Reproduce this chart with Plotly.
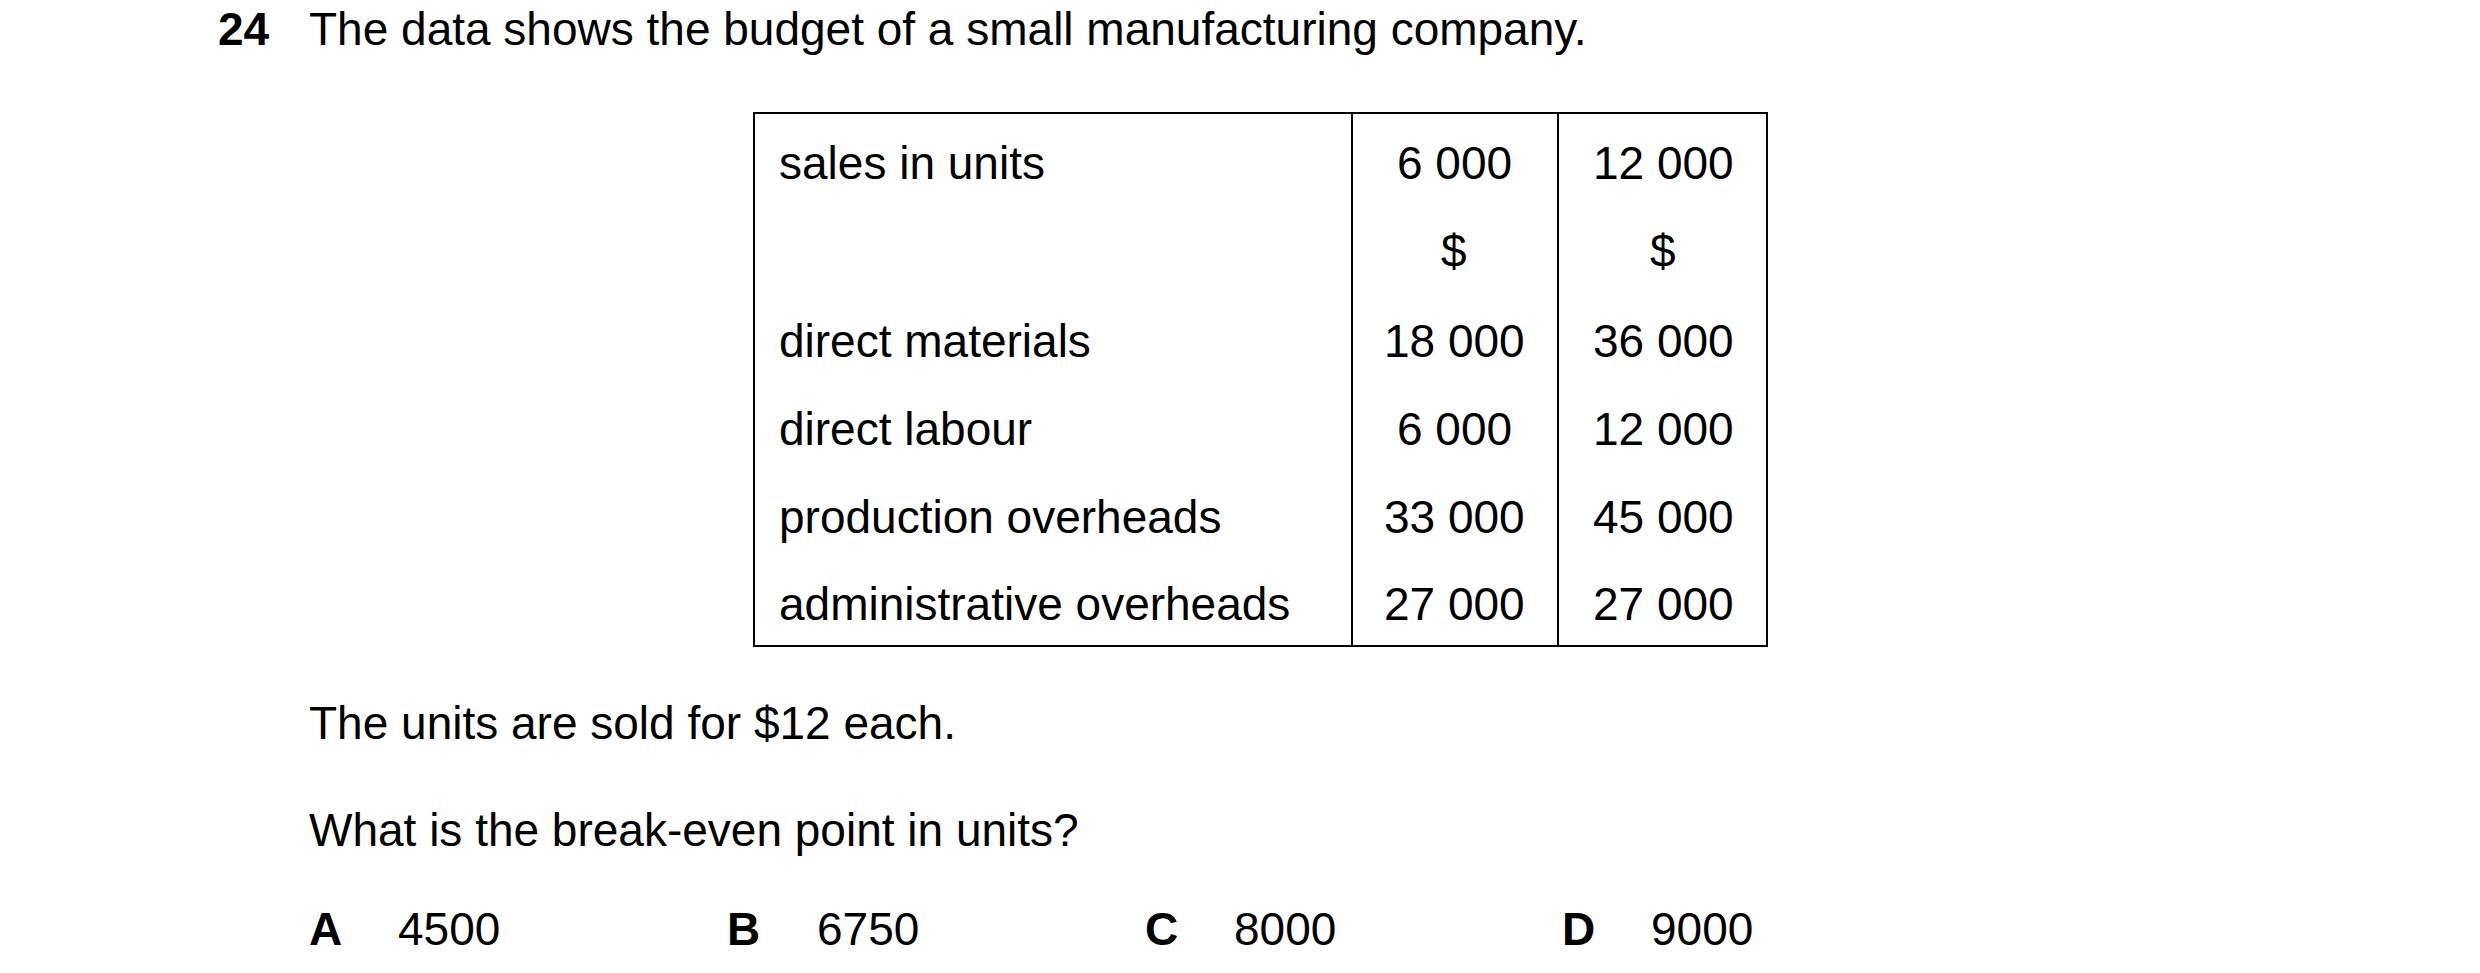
import plotly.graph_objects as go

question_no = "24"
heading = "The data shows the budget of a small manufacturing company."
row_labels = ["sales in units", "", "direct materials", "direct labour",
              "production overheads", "administrative overheads"]
col1 = ["6 000", "$", "18 000", "6 000", "33 000", "27 000"]
col2 = ["12 000", "$", "36 000", "12 000", "45 000", "27 000"]
line1 = "The units are sold for $12 each."
line2 = "What is the break-even point in units?"
opt_letters = ["A", "B", "C", "D"]
opt_values = ["4500", "6750", "8000", "9000"]

W, H = 2480, 973
F = "Liberation Sans, Arial, sans-serif"
FS = 46
fig = go.Figure()
ann = []
def t(x, y, s, anchor="left", bold=False):
    ann.append(dict(x=x, y=y - 6, xref="x", yref="y", text=(f"<b>{s}</b>" if bold else s),
                    showarrow=False, xanchor=anchor, yanchor="middle",
                    font=dict(family=F, size=FS, color="black")))

t(208, 27, question_no, bold=True)
t(299, 27, heading)
row_y = [161, 249, 339, 427, 515, 602]
for y, a, b, c in zip(row_y, row_labels, col1, col2):
    if a: t(769, y, a)
    t(1446, y, b, anchor="center")
    t(1655, y, c, anchor="center")
t(299, 721, line1)
t(299, 828, line2)
for lx, vx, l, v in zip([299, 717, 1135, 1552], [388, 807, 1224, 1641], opt_letters, opt_values):
    t(lx, 927, l, bold=True)
    t(vx, 927, v)

shapes = [dict(type="rect", x0=746, x1=1759, y0=105, y1=638, xref="x", yref="y",
               line=dict(color="black", width=2))]
for x in [1344, 1550]:
    shapes.append(dict(type="line", x0=x, x1=x, y0=105, y1=638, xref="x", yref="y",
                       line=dict(color="black", width=2)))

fig.update_layout(width=W, height=H, margin=dict(l=0, r=0, t=0, b=0),
                  paper_bgcolor="white", plot_bgcolor="white",
                  xaxis=dict(range=[0, W], visible=False),
                  yaxis=dict(range=[H, 0], visible=False),
                  annotations=ann, shapes=shapes, showlegend=False)
fig.write_html("out.html")
